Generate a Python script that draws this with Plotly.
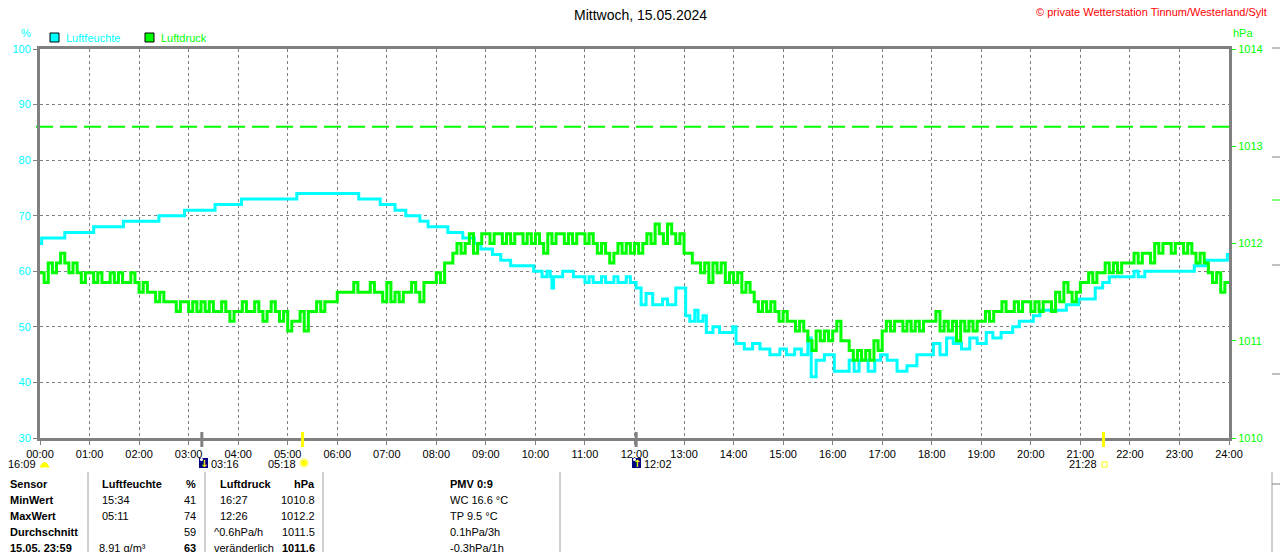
import numpy as np
import plotly.graph_objects as go

W, H = 1280, 552
ML, MR, MT, MB = 40, 51, 49, 114
PW, PH = W - ML - MR, H - MT - MB

FONT = "Liberation Sans"
CYAN = "#00FFFF"
GREEN = "#00FF00"
GRID = "#808080"


def hrs(t):
    h, m = t.split(":")
    return int(h) + int(m) / 60


# pixel -> paper helpers for the decorations around the plot
def px(x):
    return (x - ML) / PW


def py(y):
    return (MT + PH - y) / PH


# Luftfeuchte (%), time of each change
hum_time = ["00:00", "00:02", "00:30", "01:05", "01:41", "02:24", "02:55", "03:32", "04:04", "05:11",
            "06:26", "06:52", "07:10", "07:23", "07:40", "07:50", "08:14", "08:32", "08:46", "08:54",
            "09:08", "09:18", "09:30", "09:58", "10:08", "10:14", "10:18", "10:20", "10:22", "10:33",
            "10:46", "11:00", "11:05", "11:10", "11:20", "11:25", "11:35", "11:40", "11:50", "11:55",
            "12:02", "12:08", "12:14", "12:22", "12:34", "12:40", "12:50", "13:02", "13:07", "13:13",
            "13:17", "13:23", "13:27", "13:35", "13:43", "13:59", "14:03", "14:13", "14:23", "14:32",
            "14:44", "14:56", "15:04", "15:14", "15:22", "15:30", "15:34", "15:40", "15:50", "16:02",
            "16:20", "16:26", "16:32", "16:43", "16:51", "16:58", "17:06", "17:18", "17:30", "17:42",
            "18:02", "18:10", "18:18", "18:26", "18:36", "18:46", "18:55", "19:06", "19:14", "19:24",
            "19:38", "19:46", "20:03", "20:11", "20:43", "20:58", "21:18", "21:27", "21:35", "22:05",
            "22:10", "22:18", "23:18", "23:32", "23:58", "24:00"]
hum_val = [65, 66, 67, 68, 69, 70, 71, 72, 73, 74,
           73, 72, 71, 70, 69, 68, 67, 66, 65, 64,
           63, 62, 61, 60, 59, 60, 59, 57, 59, 60,
           59, 58, 59, 58, 59, 58, 59, 58, 59, 58,
           57, 54, 56, 54, 55, 54, 57, 52, 51, 53,
           51, 52, 49, 50, 49, 50, 47, 46, 47, 46,
           45, 46, 45, 46, 45, 48, 41, 44, 45, 42,
           44, 42, 44, 42, 44, 45, 44, 42, 43, 45,
           47, 45, 48, 47, 46, 48, 47, 49, 48, 49,
           50, 51, 52, 53, 54, 55, 57, 58, 59, 60,
           59, 60, 61, 62, 63, 63]

# Luftdruck (hPa), 5-minute readings, one row per hour, last value at 24:00
pressure = [
    1011.7, 1011.6, 1011.8, 1011.7, 1011.8, 1011.9, 1011.8, 1011.7, 1011.8, 1011.7, 1011.6, 1011.7,
    1011.7, 1011.6, 1011.7, 1011.6, 1011.6, 1011.7, 1011.6, 1011.7, 1011.6, 1011.6, 1011.7, 1011.6,
    1011.5, 1011.6, 1011.5, 1011.5, 1011.4, 1011.5, 1011.4, 1011.4, 1011.4, 1011.3, 1011.4, 1011.4,
    1011.3, 1011.4, 1011.3, 1011.4, 1011.3, 1011.4, 1011.3, 1011.3, 1011.4, 1011.3, 1011.2, 1011.3,
    1011.3, 1011.4, 1011.3, 1011.3, 1011.4, 1011.3, 1011.2, 1011.3, 1011.4, 1011.3, 1011.2, 1011.3,
    1011.1, 1011.2, 1011.2, 1011.3, 1011.1, 1011.3, 1011.3, 1011.4, 1011.3, 1011.4, 1011.4, 1011.4,
    1011.5, 1011.5, 1011.5, 1011.5, 1011.6, 1011.5, 1011.5, 1011.5, 1011.6, 1011.5, 1011.5, 1011.4,
    1011.6, 1011.4, 1011.5, 1011.4, 1011.5, 1011.5, 1011.6, 1011.5, 1011.4, 1011.6, 1011.6, 1011.6,
    1011.7, 1011.6, 1011.8, 1011.8, 1011.9, 1012.0, 1011.9, 1012.0, 1012.1, 1011.9, 1012.0, 1012.1,
    1012.1, 1012.0, 1012.1, 1012.1, 1012.0, 1012.1, 1012.0, 1012.1, 1012.1, 1012.0, 1012.1, 1012.0,
    1012.1, 1012.0, 1011.9, 1012.1, 1012.0, 1012.1, 1012.1, 1012.0, 1012.1, 1012.0, 1012.1, 1012.1,
    1012.0, 1012.1, 1012.0, 1011.9, 1012.0, 1011.9, 1011.8, 1011.9, 1012.0, 1011.9, 1012.0, 1011.9,
    1012.0, 1011.9, 1012.0, 1012.1, 1012.0, 1012.2, 1012.1, 1012.0, 1012.2, 1012.1, 1012.0, 1012.1,
    1011.9, 1011.9, 1011.8, 1011.8, 1011.7, 1011.8, 1011.6, 1011.8, 1011.7, 1011.8, 1011.6, 1011.7,
    1011.6, 1011.7, 1011.5, 1011.6, 1011.5, 1011.4, 1011.3, 1011.4, 1011.3, 1011.4, 1011.3, 1011.2,
    1011.3, 1011.2, 1011.2, 1011.1, 1011.2, 1011.1, 1011.0, 1010.9, 1011.1, 1011.0, 1011.1, 1011.0,
    1011.1, 1011.2, 1011.0, 1011.0, 1010.9, 1010.8, 1010.9, 1010.8, 1010.9, 1010.8, 1011.0, 1010.9,
    1011.1, 1011.2, 1011.1, 1011.2, 1011.2, 1011.1, 1011.2, 1011.1, 1011.2, 1011.1, 1011.2, 1011.2,
    1011.2, 1011.3, 1011.1, 1011.2, 1011.1, 1011.2, 1011.0, 1011.2, 1011.1, 1011.2, 1011.1, 1011.2,
    1011.2, 1011.3, 1011.2, 1011.3, 1011.3, 1011.4, 1011.3, 1011.3, 1011.4, 1011.3, 1011.4, 1011.4,
    1011.3, 1011.4, 1011.3, 1011.4, 1011.4, 1011.3, 1011.5, 1011.4, 1011.6, 1011.5, 1011.4, 1011.5,
    1011.6, 1011.6, 1011.7, 1011.6, 1011.7, 1011.7, 1011.8, 1011.7, 1011.8, 1011.7, 1011.8, 1011.8,
    1011.8, 1011.9, 1011.8, 1011.9, 1011.9, 1011.8, 1012.0, 1011.9, 1012.0, 1012.0, 1011.9, 1012.0,
    1012.0, 1011.9, 1012.0, 1011.9, 1011.8, 1011.9, 1011.8, 1011.7, 1011.6, 1011.7, 1011.5, 1011.6,
    1011.6,
]
p_time = np.arange(len(pressure)) * 5 / 60

pressure_ref = 1013.2  # green dashed line

# sun / moon events below the time axis
event_time = ["03:16", "05:18", "12:02", "21:28"]
event_color = [GRID, "#FFFF00", GRID, "#FFFF00"]

x_ticks = list(range(25))
x_labels = [f"{h:02d}:00" for h in x_ticks]

# statistics table
table_rows = [
    ["Sensor", "Luftfeuchte", "%", "Luftdruck", "hPa", "PMV 0:9"],
    ["MinWert", "15:34", "41", "16:27", "1010.8", "WC 16.6 °C"],
    ["MaxWert", "05:11", "74", "12:26", "1012.2", "TP 9.5 °C"],
    ["Durchschnitt", "", "59", "^0.6hPa/h", "1011.5", "0.1hPa/3h"],
    ["15.05. 23:59", "8.91 g/m³", "63", "veränderlich", "1011.6", "-0.3hPa/1h"],
]

fig = go.Figure()

fig.add_trace(go.Scatter(x=p_time, y=pressure, mode="lines", line_shape="hv", yaxis="y2",
                         line=dict(color=GREEN, width=3), name="Luftdruck"))
fig.add_trace(go.Scatter(x=[hrs(t) for t in hum_time], y=hum_val, mode="lines", line_shape="hv",
                         line=dict(color=CYAN, width=3), name="Luftfeuchte"))

shapes = []
annotations = []

shapes.append(dict(type="line", xref="paper", yref="y2", x0=px(36), x1=1, y0=pressure_ref, y1=pressure_ref,
                   line=dict(color=GREEN, width=2, dash="17px,7px"), layer="below"))

# event ticks on the time axis
for t, c in zip(event_time, event_color):
    shapes.append(dict(type="line", xref="x", yref="paper", x0=hrs(t), x1=hrs(t), y0=py(432), y1=py(447),
                       line=dict(color=c, width=3)))

small = dict(family=FONT, size=11, color="black")

# event labels + icons
annotations.append(dict(x=px(38), y=py(464), text="16:09", xanchor="right"))
shapes.append(dict(type="path", xref="paper", yref="paper",
                   path=f"M {px(40)},{py(467)} Q {px(44.5)},{py(458)} {px(49)},{py(467)} Z",
                   fillcolor="#FFFF00", line=dict(color="#FFFF00", width=1)))
annotations.append(dict(x=px(209), y=py(464), text="03:16", xanchor="left"))
annotations.append(dict(x=px(298), y=py(464), text="05:18", xanchor="right"))
annotations.append(dict(x=px(642), y=py(464), text="12:02", xanchor="left"))
annotations.append(dict(x=px(1099), y=py(464), text="21:28", xanchor="right"))
for x0, arrow in [(199, "↓"), (632, "↑")]:
    shapes.append(dict(type="rect", xref="paper", yref="paper", x0=px(x0), x1=px(x0 + 9), y0=py(468), y1=py(458),
                       fillcolor="#000080", line=dict(width=0)))
    shapes.append(dict(type="circle", xref="paper", yref="paper", x0=px(x0 + 1), x1=px(x0 + 4), y0=py(461), y1=py(458),
                       fillcolor="white", line=dict(width=0)))
    annotations.append(dict(x=px(x0 + 5), y=py(463), text=f"<b>{arrow}</b>", xanchor="center",
                            font=dict(family="DejaVu Sans", size=10, color="#FFFF00")))
shapes.append(dict(type="circle", xref="paper", yref="paper", x0=px(299), x1=px(309), y0=py(468), y1=py(458),
                   fillcolor="#FFFFA0", line=dict(width=0)))
shapes.append(dict(type="circle", xref="paper", yref="paper", x0=px(301), x1=px(307), y0=py(466), y1=py(460),
                   fillcolor="#FFFF00", line=dict(width=0)))
shapes.append(dict(type="rect", xref="paper", yref="paper", x0=px(1102), x1=px(1107), y0=py(467), y1=py(462),
                   line=dict(color="#FFFF00", width=1)))

# legend
for x0, col, label in [(50, CYAN, "Luftfeuchte"), (145, GREEN, "Luftdruck")]:
    shapes.append(dict(type="rect", xref="paper", yref="paper", x0=px(x0), x1=px(x0 + 9), y0=py(42), y1=py(33),
                       fillcolor=col, line=dict(color="black", width=1)))
    annotations.append(dict(x=px(x0 + 14), y=py(38), text=label, xanchor="left",
                            font=dict(family=FONT, size=11, color=col)))

annotations.append(dict(x=px(26), y=py(33), text="%", xanchor="center", font=dict(family=FONT, size=11, color=CYAN)))
annotations.append(dict(x=px(1231), y=py(33), text="hPa", xanchor="left", font=dict(family=FONT, size=11, color=GREEN)))
annotations.append(dict(x=px(640), y=py(15), text="Mittwoch, 15.05.2024", xanchor="center",
                        font=dict(family=FONT, size=14, color="black")))
annotations.append(dict(x=px(1269), y=py(12), text="© private Wetterstation Tinnum/Westerland/Sylt", xanchor="right",
                        font=dict(family=FONT, size=11, color="red")))

# table
col_x = [(8, "left"), (100, "left"), (198, "right"), (218, "left"), (317, "right"), (448, "left")]
bold_cells = {(0, c) for c in range(6)} | {(r, 0) for r in range(5)} | {(4, 2), (4, 4)}
for r, row in enumerate(table_rows):
    yy = 484 + 16 * r
    for c, txt in enumerate(row):
        if not txt:
            continue
        x0, anc = col_x[c]
        if r > 0 and c == 1:
            x0 = 97 if r == 4 else 100
        if r > 0 and c == 3:
            x0 = 212 if r >= 3 else 218
        t = f"<b>{txt}</b>" if (r, c) in bold_cells else txt
        annotations.append(dict(x=px(x0), y=py(yy), text=t, xanchor=anc))
for xs in [88, 205, 323, 560, 1272]:
    shapes.append(dict(type="line", xref="paper", yref="paper", x0=px(xs), x1=px(xs), y0=py(472), y1=py(552),
                       line=dict(color="#A0A0A0", width=1)))

# bits of a cut-off axis at the right edge
for yy in [48, 157, 265, 374, 484]:
    shapes.append(dict(type="line", xref="paper", yref="paper", x0=px(1272), x1=px(1280), y0=py(yy), y1=py(yy),
                       line=dict(color=GRID, width=1)))
shapes.append(dict(type="line", xref="paper", yref="paper", x0=px(1272), x1=px(1280), y0=py(200), y1=py(200),
                   line=dict(color=GREEN, width=1)))

for a in annotations:
    a.setdefault("xref", "paper")
    a.setdefault("yref", "paper")
    a.setdefault("showarrow", False)
    a.setdefault("yanchor", "middle")
    a.setdefault("font", small)

fig.update_layout(
    width=W, height=H,
    margin=dict(l=ML, r=MR, t=MT, b=MB, pad=0),
    paper_bgcolor="white", plot_bgcolor="white",
    showlegend=False,
    font=dict(family=FONT, size=11, color="black"),
    xaxis=dict(range=[0, 24], tickvals=x_ticks, ticktext=x_labels, showgrid=True,
               gridcolor=GRID, griddash="3px,3px", gridwidth=1, zeroline=False,
               showline=True, linecolor=GRID, linewidth=3, mirror=True,
               ticks="outside", ticklen=4, tickcolor=GRID, tickfont=dict(size=11, color="black")),
    yaxis=dict(range=[30, 100], dtick=10, showgrid=True, gridcolor=GRID, griddash="3px,3px",
               gridwidth=1, zeroline=False, showline=True, linecolor=GRID, linewidth=3,
               ticks="outside", ticklen=4, tickcolor=GRID, tickfont=dict(size=11, color=CYAN)),
    yaxis2=dict(range=[1010, 1014], dtick=1, overlaying="y", side="right", showgrid=False,
                zeroline=False, showline=True, linecolor=GRID, linewidth=3,
                ticks="outside", ticklen=4, tickcolor=GREEN, tickfont=dict(size=11, color=GREEN)),
    shapes=shapes,
    annotations=annotations,
)

# page without the browser's default body margin, so the figure sits at the top-left corner
fig.write_html("out.html", config={"displayModeBar": False},
               post_script="document.body.style.margin='0';")
